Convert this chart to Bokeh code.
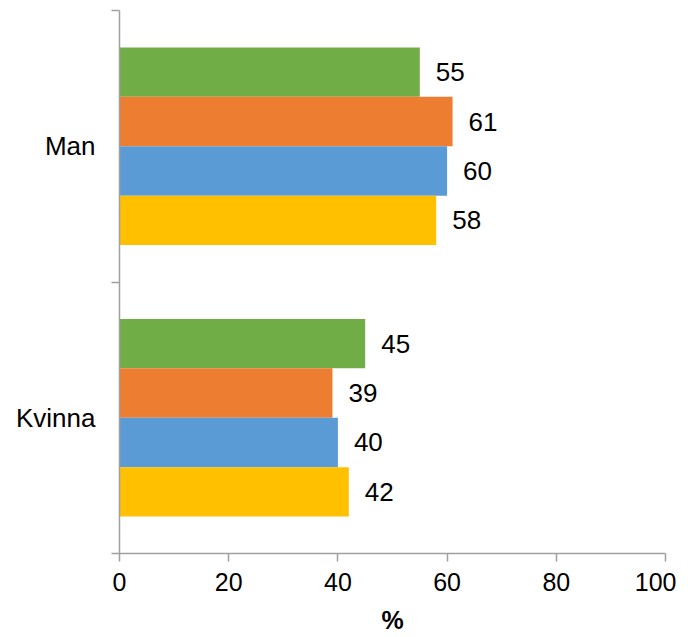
from bokeh.plotting import figure
from bokeh.models import ColumnDataSource, Range1d, FixedTicker, LinearAxis
from bokeh.transform import dodge
from bokeh.core.properties import value
from bokeh.embed import file_html
from bokeh.resources import INLINE

categories = ["Man", "Kvinna"]
series_names = ["Serie 1", "Serie 2", "Serie 3", "Serie 4"]
serie1 = [55, 45]
serie2 = [61, 39]
serie3 = [60, 40]
serie4 = [58, 42]
x_ticks = [0, 20, 40, 60, 80, 100]
colors = ["#70AD47", "#ED7D31", "#5B9BD5", "#FFC000"]

series_values = [serie1, serie2, serie3, serie4]
n_cat = len(categories)
n_ser = len(series_values)
bar_h = 0.182
FONT = "Liberation Sans"
AXIS_COLOR = "#A0A0A0"

cat_pos = [n_cat - i - 0.5 for i in range(n_cat)]

p = figure(width=676, height=637, output_backend="svg", toolbar_location=None,
           x_range=Range1d(0, 100), y_range=Range1d(0, n_cat),
           min_border_left=119, min_border_right=11, min_border_top=10, min_border_bottom=84,
           x_axis_location=None, y_axis_location=None)
p.outline_line_color = None
p.xgrid.visible = False
p.ygrid.visible = False
p.background_fill_color = "white"
p.border_fill_color = "white"

for j, vals in enumerate(series_values):
    off = (n_ser / 2 - j - 0.5) * bar_h
    src = ColumnDataSource(dict(y=cat_pos, v=vals, lab=[str(v) for v in vals]))
    p.hbar(y=dodge("y", off), left=0, right="v", height=bar_h, source=src,
           fill_color=colors[j], line_color=None)
    p.text(x="v", y=dodge("y", off), text="lab", source=src, x_offset=16,
           text_align="left", text_baseline="middle",
           text_font=value(FONT), text_font_size="26px", text_color="black")

xaxis = LinearAxis(ticker=FixedTicker(ticks=x_ticks))
xaxis.axis_label = "%"
xaxis.axis_label_text_font = FONT
xaxis.axis_label_text_font_style = "bold"
xaxis.axis_label_text_font_size = "25px"
xaxis.axis_label_text_color = "black"
xaxis.axis_label_standoff = 12
xaxis.major_label_text_font = FONT
xaxis.major_label_text_font_size = "25px"
xaxis.major_label_text_color = "black"
xaxis.major_label_standoff = 11
xaxis.axis_line_color = AXIS_COLOR
xaxis.axis_line_width = 1.5
xaxis.major_tick_line_color = AXIS_COLOR
xaxis.major_tick_line_width = 1.5
xaxis.major_tick_out = 8
xaxis.major_tick_in = 0
xaxis.minor_tick_line_color = None
p.add_layout(xaxis, "below")

yaxis = LinearAxis(ticker=FixedTicker(ticks=cat_pos, minor_ticks=list(range(n_cat + 1))))
yaxis.major_label_overrides = {cat_pos[i]: categories[i] for i in range(n_cat)}
yaxis.major_label_text_font = FONT
yaxis.major_label_text_font_size = "26px"
yaxis.major_label_text_color = "black"
yaxis.major_label_standoff = 16
yaxis.major_tick_line_color = None
yaxis.major_tick_out = 0
yaxis.major_tick_in = 0
yaxis.minor_tick_line_color = AXIS_COLOR
yaxis.minor_tick_line_width = 1.5
yaxis.minor_tick_out = 8
yaxis.minor_tick_in = 0
yaxis.axis_line_color = AXIS_COLOR
yaxis.axis_line_width = 1.5
p.add_layout(yaxis, "left")

open("out.html", "w").write(file_html(p, INLINE))
